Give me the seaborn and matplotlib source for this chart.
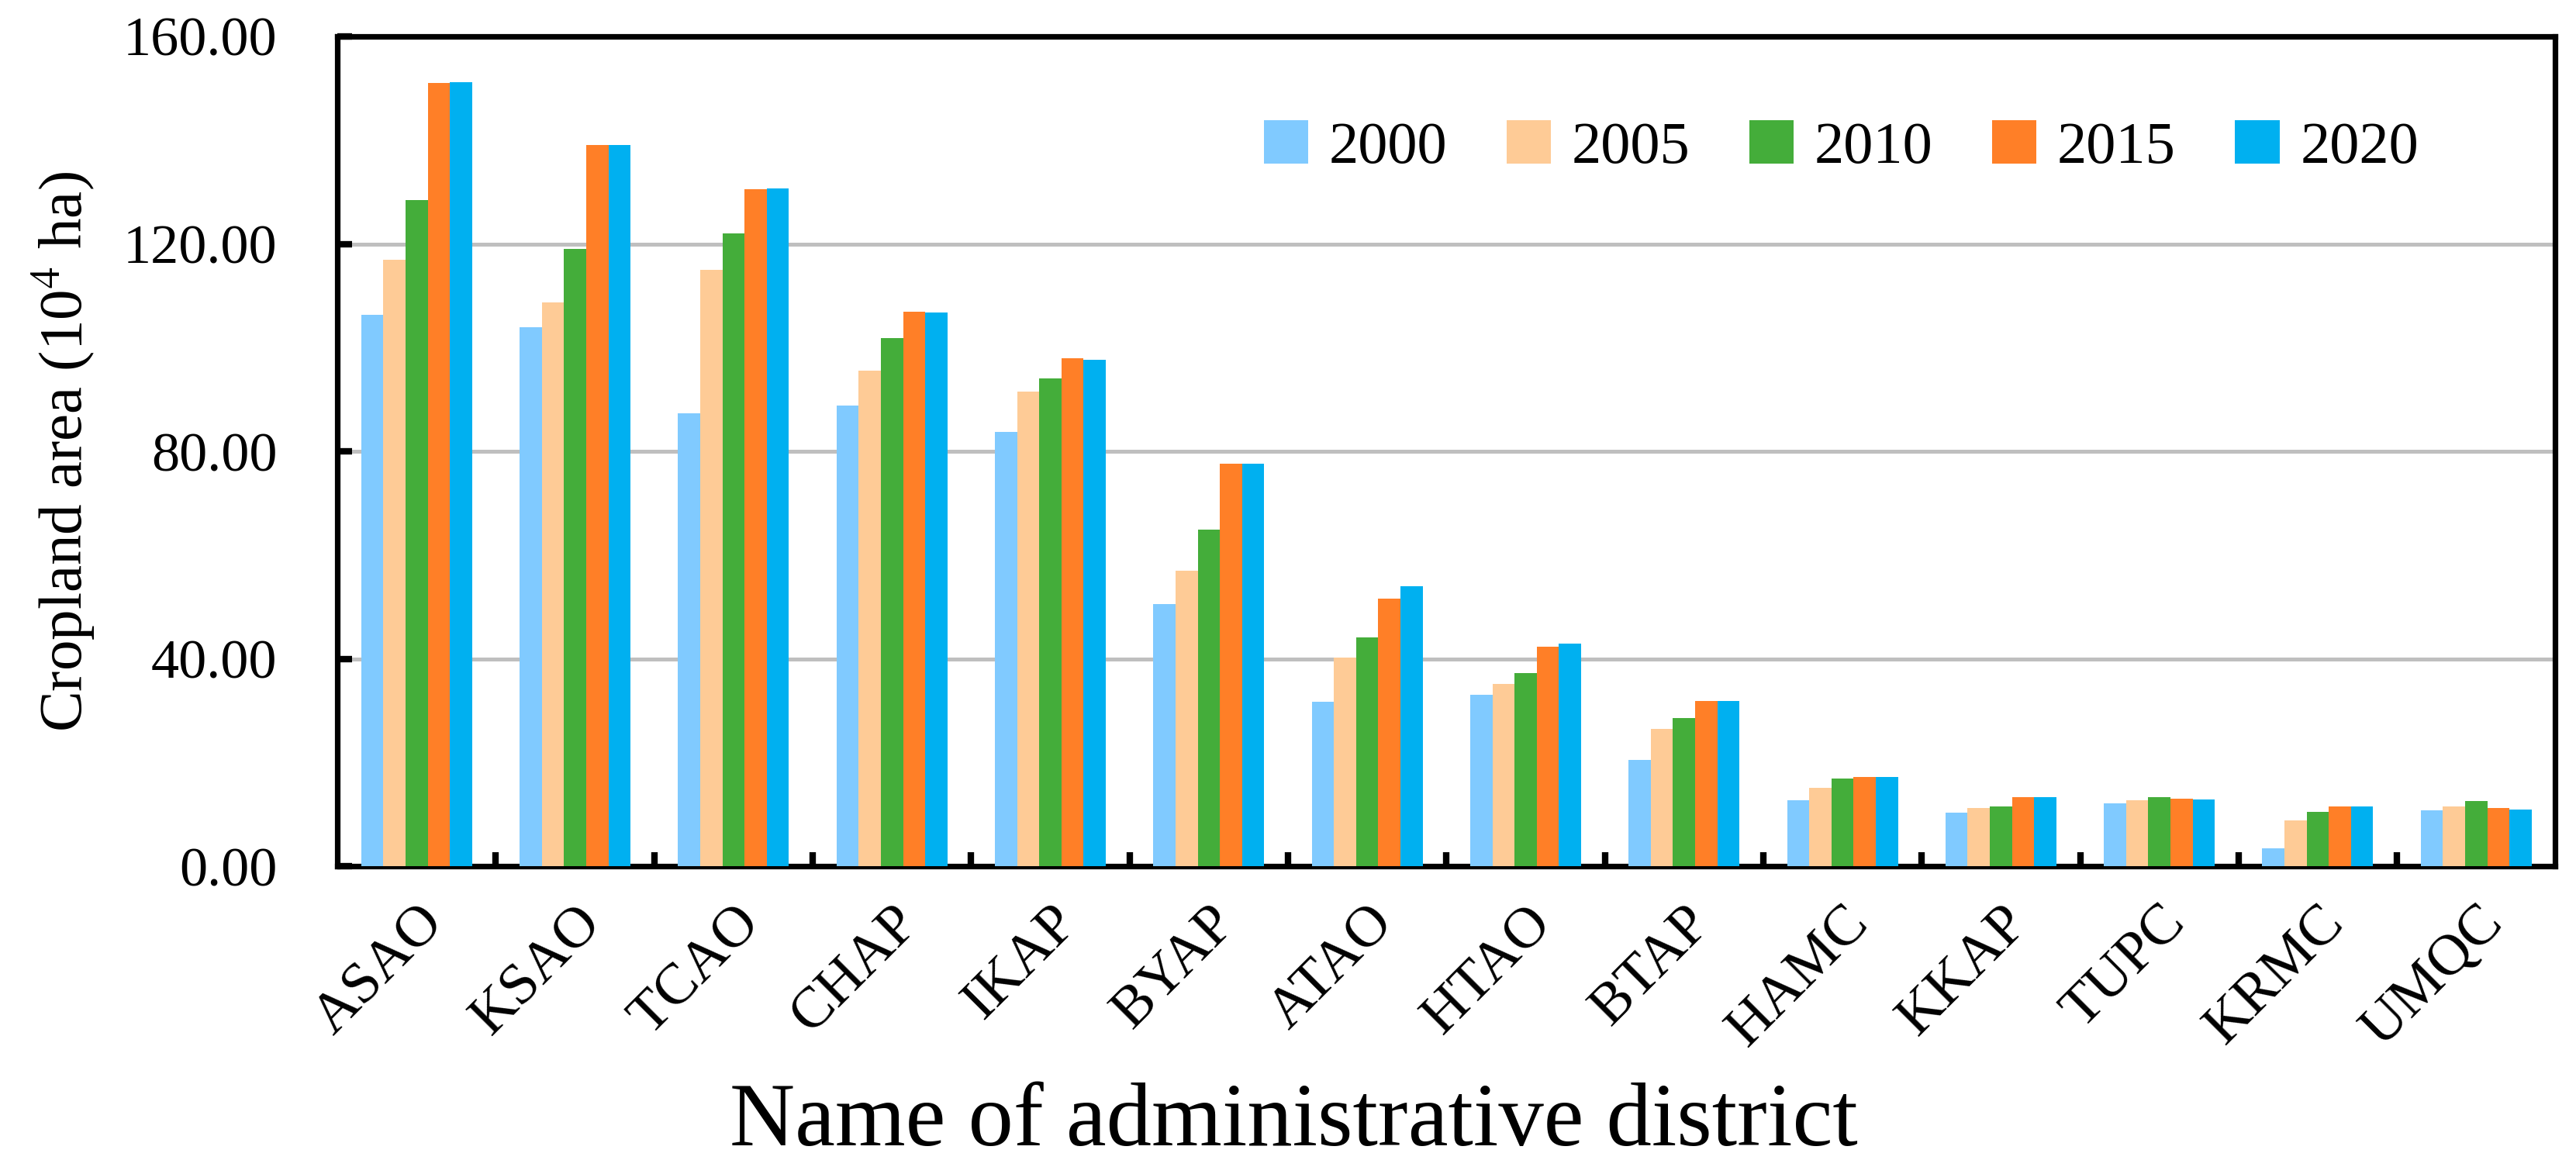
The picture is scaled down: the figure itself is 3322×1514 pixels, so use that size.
import matplotlib
matplotlib.use("Agg")
import matplotlib.pyplot as plt
import seaborn as sns
import pandas as pd
import numpy as np
from matplotlib.ticker import FormatStrFormatter, FixedLocator

districts = ["ASAO", "KSAO", "TCAO", "CHAP", "IKAP", "BYAP", "ATAO", "HTAO",
             "BTAP", "HAMC", "KKAP", "TUPC", "KRMC", "UMQC"]
years = ["2000", "2005", "2010", "2015", "2020"]

v2000 = [106.4, 104.0, 87.4, 88.9, 83.7, 50.6, 31.8, 33.1, 20.5, 12.8, 10.3, 12.2, 3.5, 10.8]
v2005 = [117.0, 108.7, 115.0, 95.6, 91.6, 57.0, 40.3, 35.2, 26.5, 15.2, 11.2, 12.8, 8.8, 11.5]
v2010 = [128.5, 119.0, 122.0, 101.9, 94.1, 64.9, 44.1, 37.3, 28.6, 17.0, 11.6, 13.3, 10.5, 12.6]
v2015 = [151.0, 139.0, 130.5, 107.0, 97.9, 77.6, 51.6, 42.4, 31.9, 17.3, 13.3, 13.0, 11.5, 11.3]
v2020 = [151.2, 139.0, 130.7, 106.8, 97.7, 77.6, 54.0, 42.9, 31.9, 17.3, 13.3, 12.9, 11.5, 11.0]

colors = ["#80CAFF", "#FECB96", "#44AD3A", "#FF7F27", "#00B0F0"]

series = [v2000, v2005, v2010, v2015, v2020]
rows = []
for y, vals in zip(years, series):
    for d, v in zip(districts, vals):
        rows.append({"District": d, "Year": y, "Area": v})
df = pd.DataFrame(rows)

sns.set_theme(style="white")
plt.rcParams["font.family"] = ["Liberation Serif", "DejaVu Serif"]
plt.rcParams["mathtext.fontset"] = "stix"
for k in ["text.color", "axes.labelcolor", "xtick.color", "ytick.color"]:
    plt.rcParams[k] = "black"

fig = plt.figure(figsize=(16.61, 7.57), dpi=200)
ax = fig.add_axes([0.131, 0.262, 0.861, 0.707])

sns.barplot(data=df, x="District", y="Area", hue="Year", hue_order=years,
            order=districts, palette=colors, width=0.7, gap=0, saturation=1,
            edgecolor="none", linewidth=0, ax=ax, errorbar=None, zorder=3)

ax.set_ylim(0, 160)
ax.set_xlim(-0.5, len(districts) - 0.5)
ax.set_yticks([0, 40, 80, 120, 160])
ax.yaxis.set_major_formatter(FormatStrFormatter("%.2f"))
ax.yaxis.grid(True, color="#BFBFBF", linewidth=1.8, zorder=0)
ax.set_axisbelow(True)

for sp in ax.spines.values():
    sp.set_linewidth(2.6)
    sp.set_color("black")
    sp.set_visible(True)

ax.tick_params(axis="y", direction="in", length=7, width=3, labelsize=26, pad=28,
               left=True, colors="black")
ax.xaxis.set_minor_locator(FixedLocator(np.arange(0.5, len(districts) - 1, 1.0)))
ax.tick_params(axis="x", which="minor", direction="in", length=6.5, width=3,
               bottom=True, colors="black")
ax.tick_params(axis="x", which="major", length=0, labelsize=27, pad=14, colors="black")
plt.setp(ax.get_xticklabels(), rotation=45, ha="right", rotation_mode="anchor")

ax.set_xlabel("Name of administrative district", fontsize=42)
ax.xaxis.set_label_coords(0.431, -0.31)
ax.xaxis.label.set_va("center")
ax.set_ylabel(r"Cropland area (10$^{4}$ ha)", fontsize=28.5, labelpad=12)

ax.legend(title=None, loc="center", bbox_to_anchor=(0.678, 0.866), ncol=5,
          frameon=False, fontsize=27.5, handlelength=0.75, handleheight=0.75,
          handletextpad=0.35, columnspacing=1.0)

fig.savefig("out.png", dpi=200)
